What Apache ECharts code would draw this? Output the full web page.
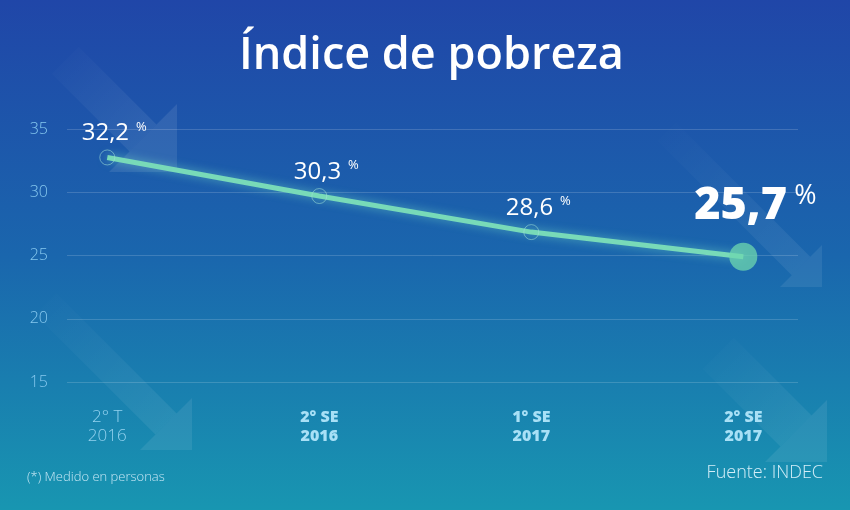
<!DOCTYPE html>
<html>
<head>
<meta charset="utf-8">
<script src="https://cdn.jsdelivr.net/npm/echarts@6/dist/echarts.min.js"></script>
<style>
html,body{margin:0;padding:0;width:850px;height:510px;overflow:hidden;}
#c{width:850px;height:510px;}
</style>
</head>
<body>
<div id="c"></div>
<script>
// ---- data ----
var categories = ['2° T\n2016', '2° SE\n2016', '1° SE\n2017', '2° SE\n2017'];
var plotted = [32.75, 29.7, 26.85, 24.9];          // positions of the points as drawn
var labelTexts = ['32,2', '30,3', '28,6', '25,7'];  // values printed beside the points
var yTicks = [15, 20, 25, 30, 35];
var titleText = 'Índice de pobreza';
var noteText = '(*) Medido en personas';
var sourceText = 'Fuente: INDEC';

var FONT = 'Open Sans';
var chart = echarts.init(document.getElementById('c'), null, {renderer: 'canvas'});

function arrow(tx, ty, len, w, h, op) {
  var s = Math.SQRT1_2;
  var mx = tx - h / 2, my = ty - h / 2;
  var nx = -s, ny = s;
  var p1 = [mx + nx * w / 2, my + ny * w / 2];
  var p2 = [mx - nx * w / 2, my - ny * w / 2];
  var p3 = [p2[0] - s * len, p2[1] - s * len];
  var p4 = [p1[0] - s * len, p1[1] - s * len];
  return [
    {type: 'polygon', silent: true, z: -1,
      shape: {points: [p1, p2, p3, p4]},
      style: {fill: {type: 'linear', x: 1, y: 1, x2: 0, y2: 0,
        colorStops: [{offset: 0, color: 'rgba(255,255,255,' + op + ')'}, {offset: 1, color: 'rgba(255,255,255,0)'}]}}},
    {type: 'polygon', silent: true, z: -1,
      shape: {points: [[tx, ty], [tx, ty - h], [tx - h, ty]]},
      style: {fill: 'rgba(255,255,255,' + op + ')'}}
  ];
}

var graphics = [].concat(
  arrow(177, 172, 110, 38, 68, 0.09),
  arrow(192, 450, 170, 30, 52, 0.08),
  arrow(822, 287, 190, 26, 42, 0.08),
  arrow(827, 462, 110, 44, 62, 0.08)
);
graphics.push({
  type: 'text', left: 27, top: 471,
  style: {text: noteText, fill: '#c4e6f4', font: '300 13px "' + FONT + '"'}
});
graphics.push({
  type: 'text', right: 27, top: 464,
  style: {text: sourceText, fill: '#d4eef8', font: '300 18px "' + FONT + '"'}
});

var lastIdx = plotted.length - 1;
var seriesData = plotted.map(function (v, i) {
  var isLast = i === lastIdx;
  return {
    value: [i, v],
    symbolSize: isLast ? 28 : 15,
    itemStyle: isLast
      ? {color: 'rgba(110,215,175,0.75)', borderWidth: 0, shadowBlur: 0}
      : {color: 'rgba(0,0,0,0)', borderColor: 'rgba(160,225,215,0.55)', borderWidth: 1, shadowBlur: 0},
    label: isLast
      ? {show: true, position: 'top', distance: 14, offset: [12, 0],
         formatter: '{b|' + labelTexts[i] + '}{bp|%}'}
      : {show: true, position: 'top', distance: 3, offset: [7, 0],
         formatter: '{v|' + labelTexts[i] + '}{p|%}'}
  };
});

var option = {
  backgroundColor: {type: 'linear', x: 0, y: 0, x2: 0, y2: 1,
    colorStops: [{offset: 0, color: '#2046a8'}, {offset: 0.5, color: '#1a66ad'}, {offset: 1, color: '#1896b1'}]},
  title: {
    text: titleText, left: 234, top: 29,
    textStyle: {color: '#ffffff', fontFamily: FONT, fontWeight: 600, fontSize: 45}
  },
  grid: {left: 67, right: 52, top: 129, bottom: 128},
  xAxis: {
    type: 'value', min: -0.19, max: 3.258,
    axisLine: {show: false}, axisTick: {show: false}, splitLine: {show: false},
    axisLabel: {
      customValues: [0, 1, 2, 3],
      margin: 26,
      formatter: function (v) {
        var i = Math.round(v);
        var parts = categories[i].split('\n');
        var k = i === 0 ? 'a' : 'c';
        return '{' + k + '|' + parts[0] + '}\n{' + k + '|' + parts[1] + '}';
      },
      rich: {
        a: {color: '#93d2ef', fontFamily: FONT, fontWeight: 300, fontSize: 17, lineHeight: 19},
        c: {color: '#a8e0f6', fontFamily: FONT, fontWeight: 800, fontSize: 16, lineHeight: 19}
      }
    }
  },
  yAxis: {
    type: 'value', min: 15, max: 35, interval: 5,
    axisLine: {show: false}, axisTick: {show: false},
    axisLabel: {color: '#86c8ef', fontFamily: FONT, fontWeight: 300, fontSize: 16, margin: 19},
    splitLine: {lineStyle: {color: 'rgba(255,255,255,0.16)', width: 1}}
  },
  series: [{
    type: 'line',
    data: seriesData,
    symbol: 'circle',
    lineStyle: {color: '#78dab8', width: 5, shadowBlur: 10, shadowColor: 'rgba(130,235,200,0.55)'},
    label: {
      rich: {
        v: {color: '#ffffff', fontFamily: FONT, fontWeight: 400, fontSize: 24, lineHeight: 26},
        p: {color: '#ffffff', fontFamily: FONT, fontWeight: 400, fontSize: 13, verticalAlign: 'top', lineHeight: 14, padding: [0, 0, 0, 7]},
        b: {color: '#ffffff', fontFamily: FONT, fontWeight: 800, fontSize: 45, lineHeight: 46},
        bp: {color: '#ffffff', fontFamily: FONT, fontWeight: 500, fontSize: 27, verticalAlign: 'top', lineHeight: 28, padding: [0, 0, 0, 7]}
      }
    },
    emphasis: {disabled: true},
    animation: false,
    z: 3
  }],
  graphic: graphics,
  animation: false
};
chart.setOption(option);
</script>
</body>
</html>
